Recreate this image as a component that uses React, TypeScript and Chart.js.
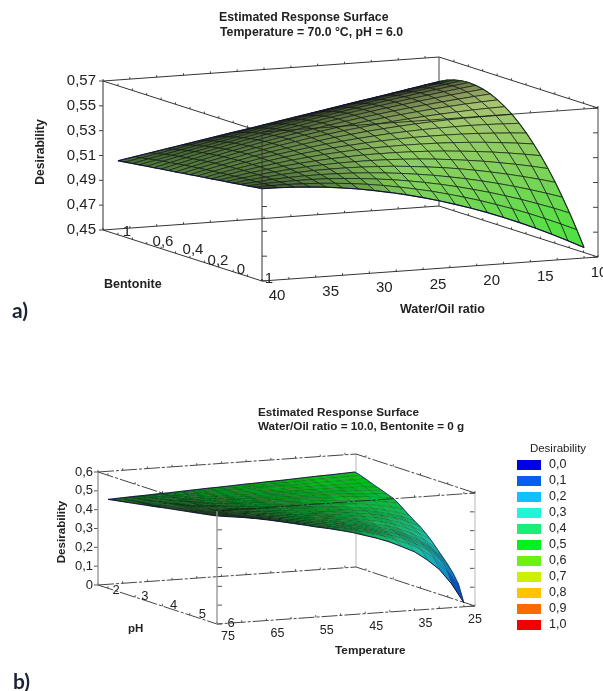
import React, { useEffect, useRef } from "react";
import { Chart, registerables } from "chart.js";
Chart.register(...registerables);

// ---------- data ----------
const waterOilGrid = [40, 38.5, 37, 35.5, 34, 32.5, 31, 29.5, 28, 26.5, 25, 23.5, 22, 20.5, 19, 17.5, 16, 14.5, 13, 11.5, 10];
const bentoniteGrid = [1, 0.95, 0.9, 0.85, 0.8, 0.75, 0.7, 0.65, 0.6, 0.55, 0.5, 0.45, 0.4, 0.35, 0.3, 0.25, 0.2, 0.15, 0.1, 0.05, 0];
// Desirability x 10000; rows follow bentoniteGrid, columns follow waterOilGrid
const desirabilityA = [
  [5096,5119,5142,5165,5187,5210,5233,5256,5278,5301,5324,5347,5369,5392,5415,5438,5460,5483,5506,5529,5551],
  [5104,5129,5154,5179,5204,5229,5253,5278,5302,5326,5350,5373,5397,5420,5444,5467,5489,5512,5535,5557,5579],
  [5111,5139,5166,5193,5219,5246,5271,5297,5322,5347,5372,5396,5420,5443,5467,5490,5512,5534,5556,5578,5599],
  [5119,5148,5177,5205,5233,5260,5287,5314,5339,5365,5390,5414,5438,5461,5484,5507,5529,5550,5571,5591,5611],
  [5126,5157,5187,5216,5245,5273,5300,5327,5353,5379,5404,5428,5451,5474,5496,5518,5538,5559,5578,5597,5615],
  [5133,5165,5196,5226,5255,5284,5311,5338,5364,5389,5413,5437,5460,5481,5502,5522,5542,5560,5578,5595,5611],
  [5141,5173,5204,5235,5264,5292,5320,5346,5371,5396,5419,5442,5463,5483,5503,5521,5539,5555,5571,5585,5599],
  [5148,5181,5212,5242,5271,5299,5326,5351,5376,5399,5421,5442,5462,5480,5498,5514,5529,5543,5556,5568,5579],
  [5155,5188,5219,5248,5277,5304,5329,5354,5377,5398,5419,5438,5456,5472,5487,5501,5514,5525,5535,5543,5550],
  [5163,5195,5225,5253,5281,5306,5331,5353,5375,5394,5413,5429,5445,5459,5471,5482,5491,5499,5506,5511,5514],
  [5170,5201,5230,5257,5283,5307,5329,5350,5369,5387,5402,5417,5429,5440,5449,5457,5463,5467,5469,5470,5470],
  [5178,5207,5234,5260,5284,5306,5326,5344,5361,5375,5388,5399,5409,5416,5422,5425,5427,5428,5426,5422,5417],
  [5185,5212,5238,5261,5283,5302,5320,5335,5349,5360,5370,5378,5383,5387,5388,5388,5386,5382,5375,5367,5357],
  [5192,5218,5241,5261,5280,5297,5311,5324,5334,5342,5348,5351,5353,5352,5350,5345,5338,5329,5317,5304,5288],
  [5200,5222,5243,5260,5276,5289,5300,5309,5315,5320,5321,5321,5318,5313,5305,5295,5283,5269,5252,5233,5212],
  [5207,5227,5244,5258,5270,5280,5287,5292,5294,5294,5291,5286,5278,5268,5255,5240,5223,5202,5180,5155,5127],
  [5214,5231,5244,5255,5263,5269,5271,5272,5269,5264,5257,5246,5233,5218,5200,5179,5155,5129,5100,5069,5035],
  [5222,5234,5244,5250,5254,5255,5253,5249,5241,5231,5218,5202,5184,5162,5138,5111,5081,5049,5013,4975,4934],
  [5229,5237,5242,5244,5244,5240,5233,5223,5210,5195,5176,5154,5130,5102,5071,5038,5001,4962,4919,4874,4825],
  [5237,5240,5240,5237,5231,5222,5210,5195,5176,5154,5129,5102,5070,5036,4999,4958,4915,4868,4818,4765,4709],
  [5244,5242,5237,5229,5218,5203,5185,5163,5138,5110,5079,5044,5006,4965,4921,4873,4822,4767,4709,4648,4584],
];

const temperatureGrid = [75, 72.5, 70, 67.5, 65, 62.5, 60, 57.5, 55, 52.5, 50, 47.5, 45, 42.5, 40, 37.5, 35, 32.5, 30, 27.5, 25];
const phGrid = [2, 2.2, 2.4, 2.6, 2.8, 3, 3.2, 3.4, 3.6, 3.8, 4, 4.2, 4.4, 4.6, 4.8, 5, 5.2, 5.4, 5.6, 5.8, 6];
// Desirability; rows follow phGrid, columns follow temperatureGrid
const desirabilityB = [
  [.472,.475,.478,.480,.483,.485,.488,.491,.494,.496,.499,.502,.504,.507,.509,.512,.515,.518,.520,.523,.526],
  [.477,.479,.482,.483,.485,.487,.489,.491,.493,.495,.497,.500,.501,.504,.505,.508,.510,.513,.514,.516,.518],
  [.482,.484,.485,.486,.488,.488,.490,.491,.493,.494,.496,.498,.499,.501,.501,.503,.505,.507,.507,.508,.508],
  [.487,.488,.489,.489,.490,.490,.490,.491,.492,.493,.494,.495,.495,.497,.497,.498,.499,.499,.498,.497,.496],
  [.492,.493,.493,.492,.492,.491,.491,.491,.492,.491,.492,.493,.493,.493,.493,.493,.493,.493,.491,.488,.485],
  [.497,.497,.497,.495,.494,.493,.492,.492,.491,.490,.490,.491,.490,.490,.489,.488,.488,.487,.484,.480,.475],
  [.502,.501,.500,.498,.497,.494,.493,.492,.491,.489,.489,.488,.487,.486,.485,.483,.483,.480,.476,.471,.464],
  [.507,.506,.504,.501,.499,.496,.494,.492,.490,.488,.487,.486,.484,.483,.480,.478,.477,.473,.468,.461,.453],
  [.512,.510,.508,.505,.502,.498,.495,.492,.490,.487,.485,.483,.480,.478,.475,.472,.469,.464,.457,.447,.435],
  [.517,.515,.512,.508,.504,.500,.496,.492,.489,.485,.482,.480,.476,.473,.468,.464,.460,.452,.442,.429,.412],
  [.523,.519,.516,.511,.507,.501,.497,.493,.488,.484,.480,.477,.472,.468,.462,.456,.450,.441,.428,.411,.390],
  [.528,.524,.520,.514,.509,.503,.498,.493,.488,.482,.478,.474,.468,.463,.456,.449,.442,.430,.415,.395,.369],
  [.533,.529,.523,.518,.512,.505,.499,.493,.487,.481,.476,.471,.464,.458,.450,.441,.433,.419,.403,.379,.349],
  [.538,.533,.527,.521,.514,.507,.500,.493,.486,.479,.473,.468,.459,.452,.443,.433,.423,.407,.387,.359,.324],
  [.543,.538,.531,.524,.517,.509,.501,.493,.486,.478,.471,.464,.455,.446,.435,.424,.412,.393,.370,.338,.296],
  [.548,.542,.535,.528,.520,.511,.502,.493,.485,.476,.468,.460,.450,.440,.427,.413,.399,.377,.350,.312,.263],
  [.553,.547,.540,.531,.522,.513,.503,.493,.484,.474,.465,.456,.444,.433,.419,.403,.386,.361,.330,.286,.231],
  [.558,.551,.544,.535,.525,.515,.504,.493,.483,.472,.462,.452,.439,.426,.410,.392,.374,.345,.310,.261,.198],
  [.563,.556,.548,.539,.528,.517,.505,.493,.482,.471,.459,.448,.433,.419,.401,.381,.359,.327,.287,.232,.160],
  [.568,.561,.552,.542,.531,.519,.506,.494,.481,.468,.456,.443,.426,.410,.390,.366,.342,.305,.259,.195,.112],
  [.574,.565,.557,.547,.535,.522,.508,.494,.479,.466,.451,.435,.415,.395,.371,.341,.310,.264,.208,.126,.021],
];

const zTicksA = [0.45, 0.47, 0.49, 0.51, 0.53, 0.55, 0.57];
const waterOilTicks = [40, 35, 30, 25, 20, 15, 10];
const bentoniteTickLabels = ["1", "0,6", "0,4", "0,2", "0", "1"];
const zTicksB = [0, 0.1, 0.2, 0.3, 0.4, 0.5, 0.6];
const temperatureTicks = [75, 65, 55, 45, 35, 25];
const phTicks = [2, 3, 4, 5, 6];
const legendLabels = ["0,0", "0,1", "0,2", "0,3", "0,4", "0,5", "0,6", "0,7", "0,8", "0,9", "1,0"];
const legendColors = ["#0000e6", "#0a5cf0", "#10c0ff", "#20f5d8", "#18ee78", "#00f020", "#70f010", "#ccf000", "#ffc400", "#ff6a00", "#f00000"];

// ---------- layout ----------
const FONT = '"Liberation Sans"';
const TEXT = "#222";
const bentoniteLabelPos = [[127, 232], [163, 242], [193, 250], [218, 261], [241, 270], [269, 279]];

const viewA = { ox: 262, oy: 281, ux: 336, uy: -24, vx: -159, vy: -51, h: 149, zMin: 0.45, zMax: 0.57 };
const viewB = { ox: 217, oy: 624, ux: 258, uy: -18, vx: -119, vy: -39, h: 113, zMin: 0, zMax: 0.6 };
type V = typeof viewA;
const P = (view: V, u: number, v: number, z: number) => ({
  x: view.ox + view.ux * u + view.vx * v,
  y: view.oy + view.uy * u + view.vy * v - (view.h * (z - view.zMin)) / (view.zMax - view.zMin),
});
const uA = (w: number) => (40 - w) / 31.3;
const vA = (b: number) => b * 0.906;
const uB = (t: number) => ((75 - t) / 50) * 0.957;
const vB = (p: number) => ((6 - p) / 4) * 0.916;

const hex = (c: string) => [1, 3, 5].map((i) => parseInt(c.slice(i, i + 2), 16));
function colorA(z: number) {
  const f = Math.min(1, Math.max(0, (z - 0.45) / 0.12));
  const lo = [62, 232, 58], hi = [185, 190, 120];
  return lo.map((c, i) => c + (hi[i] - c) * f);
}
function colorB(z: number) {
  const f = Math.min(legendColors.length - 1.001, Math.max(0, z * 10));
  const i = Math.floor(f), a = hex(legendColors[i]), b = hex(legendColors[i + 1]);
  return a.map((c, k) => (c + (b[k] - c) * (f - i)) * 0.78);
}

function line(points: any[], color: string, width: number, dash: number[] = []) {
  return { type: "scatter", data: points, showLine: true, fill: false, borderColor: color, borderWidth: width, borderDash: dash, pointRadius: 0, tension: 0, clip: false, spanGaps: false };
}
function quads(view: V, grid: number[][], us: number[], vs: number[], col: (z: number) => number[], mesh: string, width: number, shade: { full: number; min: number; dark: number[] }) {
  const out: any[] = [];
  // nearest cell first: the first dataset is painted last
  for (let j = vs.length - 2; j >= 0; j--) {
    for (let i = 0; i < us.length - 1; i++) {
      const a = P(view, us[i], vs[j], grid[j][i]);
      const b = P(view, us[i + 1], vs[j], grid[j][i + 1]);
      const c = P(view, us[i + 1], vs[j + 1], grid[j + 1][i + 1]);
      const d = P(view, us[i], vs[j + 1], grid[j + 1][i]);
      const m = (grid[j][i] + grid[j][i + 1] + grid[j + 1][i + 1] + grid[j + 1][i]) / 4;
      // squashed cells read darker, as the mesh lines crowd together there
      const area = Math.abs((c.x - a.x) * (d.y - b.y) - (d.x - b.x) * (c.y - a.y)) / 2;
      const k = Math.max(shade.min, Math.min(1, area / shade.full));
      const rgb = col(m).map((v, n) => Math.round(shade.dark[n] + (v - shade.dark[n]) * k));
      out.push({ type: "scatter", data: [a, b, c, d, a], showLine: true, fill: "shape", backgroundColor: `rgb(${rgb.join(",")})`, borderColor: mesh, borderWidth: width, pointRadius: 0, tension: 0, clip: false });
    }
  }
  return out;
}
function ticksAlong(view: V, pts: number[][], dx: number, dy: number) {
  const out: any[] = [];
  for (const [u, v, z] of pts) {
    const p = P(view, u, v, z);
    out.push(p, { x: p.x + dx, y: p.y + dy }, { x: null, y: null });
  }
  return out;
}
function boxDatasets(view: V, us: number[], vs: number[], zs: number[], grid: number[][], ug: number[], vg: number[], st: any) {
  const z0 = view.zMin, z1 = view.zMax;
  const c = (u: number, v: number, z: number) => P(view, u, v, z);
  const back = [
    line([c(0, 1, z1), c(1, 1, z1), c(1, 0, z1)], st.edge, st.w, st.dash),
    line([c(0, 1, z0), c(1, 1, z0), c(1, 0, z0)], st.edge, st.w, st.dash),
    line([c(0, 1, z0), c(0, 1, z1)], st.vert, st.vw),
    line([c(1, 1, z0), c(1, 1, z1)], st.backVert, st.vw),
    line([c(1, 0, z0), c(1, 0, z1)], st.backVert, st.vw),
    line([c(0, 1, z1), c(0, 0, z1)], st.edge, st.w, st.dash),
    line([c(0, 1, z0), c(0, 0, z0), c(1, 0, z0)], st.edge, st.w, st.dash),
  ];
  const minor: number[][] = [];
  for (const u of us) for (const [v, z] of [[0, z0], [1, z0], [0, z1], [1, z1]]) minor.push([u, v, z]);
  for (const v of vs) for (const [u, z] of [[0, z0], [1, z0], [0, z1], [1, z1]]) minor.push([u, v, z]);
  back.push(line(ticksAlong(view, minor, 0, -2), st.tick, 1));
  back.push(line(ticksAlong(view, zs.map((z) => [1, 0, z]), -5, 0), st.tick, 1));
  back.push(line(ticksAlong(view, zs.map((z) => [0, 1, z]), -4, 0), st.tick, 1));
  const front = [
    line([c(0, 0, z1), c(1, 0, z1)], st.frontEdge, st.w, st.dash),
    line([c(0, 0, z0), c(0, 0, z1)], st.vert, st.vw),
    line(ticksAlong(view, zs.map((z) => [0, 0, z]), 5, 0), st.tick, 1),
  ];
  const rim = [
    line(ug.map((u, i) => P(view, u, vg[0], grid[0][i])), st.rim, st.rimW),
    line(ug.map((u, i) => P(view, u, vg[vg.length - 1], grid[vg.length - 1][i])), st.rim, st.rimW),
    line(vg.map((v, j) => P(view, ug[0], v, grid[j][0])), st.rim, st.rimW),
    line(vg.map((v, j) => P(view, ug[ug.length - 1], v, grid[j][ug.length - 1])), st.rim2, st.rimW),
  ];
  return { back, front, rim };
}

type T = { s: string; x: number; y: number; font: string; align?: CanvasTextAlign; rot?: boolean; color?: string };
const textPlugin = (items: T[], swatches: boolean) => ({
  id: "labels",
  afterDraw(chart: any) {
    const { ctx, scales } = chart;
    ctx.save();
    ctx.textBaseline = "middle";
    for (const t of items) {
      const x = scales.x.getPixelForValue(t.x), y = scales.y.getPixelForValue(t.y);
      ctx.save();
      ctx.translate(x, y);
      if (t.rot) ctx.rotate(-Math.PI / 2);
      ctx.font = t.font;
      ctx.fillStyle = t.color || TEXT;
      ctx.textAlign = t.align || "left";
      ctx.fillText(t.s, 0, 0);
      ctx.restore();
    }
    if (swatches) {
      legendColors.forEach((c, i) => {
        ctx.fillStyle = c;
        const x = scales.x.getPixelForValue(517), y = scales.y.getPixelForValue(460 + i * 16);
        ctx.fillRect(x, y, 24, 10);
      });
    }
    ctx.restore();
  },
});

const tick15 = `15px ${FONT}`;
const tick13 = `13px ${FONT}`;
const panelLetter = `bold 21px Lato`;

function textsA(): T[] {
  const out: T[] = [
    { s: "Estimated Response Surface", x: 219, y: 18, font: `bold 12.3px ${FONT}` },
    { s: "Temperature = 70.0 °C, pH = 6.0", x: 220, y: 33, font: `bold 12.3px ${FONT}` },
    { s: "Desirability", x: 41, y: 152, font: `bold 12.2px ${FONT}`, align: "center", rot: true },
    { s: "Bentonite", x: 104, y: 285, font: `bold 12.5px ${FONT}` },
    { s: "Water/Oil ratio", x: 400, y: 310, font: `bold 12.5px ${FONT}` },
    { s: "a)", x: 12, y: 311, font: panelLetter, color: "#1b2433" },
  ];
  zTicksA.forEach((z) => out.push({ s: z.toFixed(2).replace(".", ","), x: 96, y: P(viewA, 0, 1, z).y, font: tick15, align: "right" }));
  waterOilTicks.forEach((w) => {
    const p = P(viewA, uA(w), 0, 0.45);
    out.push({ s: String(w), x: p.x + 15, y: p.y + 15, font: tick15, align: "center" });
  });
  bentoniteTickLabels.forEach((s, i) => out.push({ s, x: bentoniteLabelPos[i][0], y: bentoniteLabelPos[i][1], font: tick15, align: "center" }));
  return out;
}
function textsB(): T[] {
  const out: T[] = [
    { s: "Estimated Response Surface", x: 258, y: 413, font: `bold 11.7px ${FONT}` },
    { s: "Water/Oil ratio = 10.0, Bentonite = 0 g", x: 258, y: 427, font: `bold 11.7px ${FONT}` },
    { s: "Desirability", x: 62, y: 532, font: `bold 11.6px ${FONT}`, align: "center", rot: true },
    { s: "pH", x: 128, y: 629, font: `bold 11.5px ${FONT}` },
    { s: "Temperature", x: 335, y: 651, font: `bold 11.8px ${FONT}` },
    { s: "b)", x: 13, y: 682, font: panelLetter, color: "#1b2433" },
    { s: "Desirability", x: 558, y: 449, font: `11.5px ${FONT}`, align: "center" },
  ];
  zTicksB.forEach((z) => out.push({ s: z === 0 ? "0" : z.toFixed(1).replace(".", ","), x: 93, y: P(viewB, 0, 1, z).y, font: tick13, align: "right" }));
  temperatureTicks.forEach((t) => {
    const p = P(viewB, uB(t), 0, 0);
    out.push({ s: String(t), x: p.x + 11, y: p.y + 13, font: `12.5px ${FONT}`, align: "center" });
  });
  phTicks.forEach((ph) => {
    const p = P(viewB, 0, vB(ph), 0);
    out.push({ s: String(ph), x: p.x + 8 + (ph - 2) * 1.5, y: p.y - 1 + (ph === 2 ? 3 : 0), font: tick13, align: "center" });
  });
  legendLabels.forEach((s, i) => out.push({ s, x: 549, y: 465 + i * 16, font: `12.5px ${FONT}` }));
  return out;
}

function makeChart(canvas: HTMLCanvasElement, top: number, bottom: number, datasets: any[], texts: T[], swatches: boolean) {
  return new Chart(canvas, {
    type: "scatter",
    data: { datasets },
    options: {
      animation: false, responsive: false, events: [],
      layout: { padding: 0 },
      scales: {
        x: { type: "linear", min: 0, max: 603, display: false },
        y: { type: "linear", min: top, max: bottom, reverse: true, display: false },
      },
      plugins: { legend: { display: false }, tooltip: { enabled: false }, filler: { propagate: false } },
    },
    plugins: [textPlugin(texts, swatches)],
  } as any);
}

export default function App() {
  const a = useRef<HTMLCanvasElement>(null);
  const b = useRef<HTMLCanvasElement>(null);
  useEffect(() => {
    const ugA = waterOilGrid.map(uA), vgA = bentoniteGrid.map(vA);
    const gridA = desirabilityA.map((r) => r.map((n) => n / 10000));
    const boxA = boxDatasets(viewA, [40, 37.5, 35, 32.5, 30, 27.5, 25, 22.5, 20, 17.5, 15, 12.5, 10].map(uA), [1, 0.9, 0.8, 0.7, 0.6, 0.5, 0.4, 0.3, 0.2, 0.1, 0].map(vA), zTicksA, gridA, ugA, vgA,
      { edge: "#333", frontEdge: "rgba(30,30,30,0.85)", vert: "#333", backVert: "#444", tick: "#444", w: 1, vw: 1, dash: [], rim: "#12123a", rim2: "#1c3a1c", rimW: 1.1 });
    const dsA = [...boxA.front, ...boxA.rim, ...quads(viewA, gridA, ugA, vgA, colorA, "rgba(15,22,15,0.75)", 0.9, { full: 115, min: 0.04, dark: [30, 32, 28] }), ...boxA.back];

    const ugB = temperatureGrid.map(uB), vgB = phGrid.map(vB);
    const boxB = boxDatasets(viewB, [75, 70, 65, 60, 55, 50, 45, 40, 35, 30, 25].map(uB), phTicks.map(vB), zTicksB, desirabilityB, ugB, vgB,
      { edge: "#444", frontEdge: "rgba(30,30,30,0.8)", vert: "#999", backVert: "#ccc", tick: "#555", w: 1, vw: 1.4, dash: [16, 2, 3, 2], rim: "#10103a", rim2: "#0a3a6a", rimW: 0.9 });
    const dsB = [...boxB.front, ...boxB.rim, ...quads(viewB, desirabilityB, ugB, vgB, colorB, "rgba(0,15,5,0.3)", 0.7, { full: 42, min: 0.06, dark: [8, 22, 14] }), ...boxB.back];

    const c1 = makeChart(a.current!, 0, 345, dsA, textsA(), false);
    const c2 = makeChart(b.current!, 345, 691, dsB, textsB(), true);
    return () => { c1.destroy(); c2.destroy(); };
  }, []);
  return (
    <div style={{ position: "absolute", left: 0, top: 0, width: 603, height: 691, background: "#fff", filter: "blur(0.4px)" }}>
      <canvas ref={a} width={603} height={345} style={{ position: "absolute", left: 0, top: 0 }} />
      <canvas ref={b} width={603} height={346} style={{ position: "absolute", left: 0, top: 345 }} />
    </div>
  );
}
